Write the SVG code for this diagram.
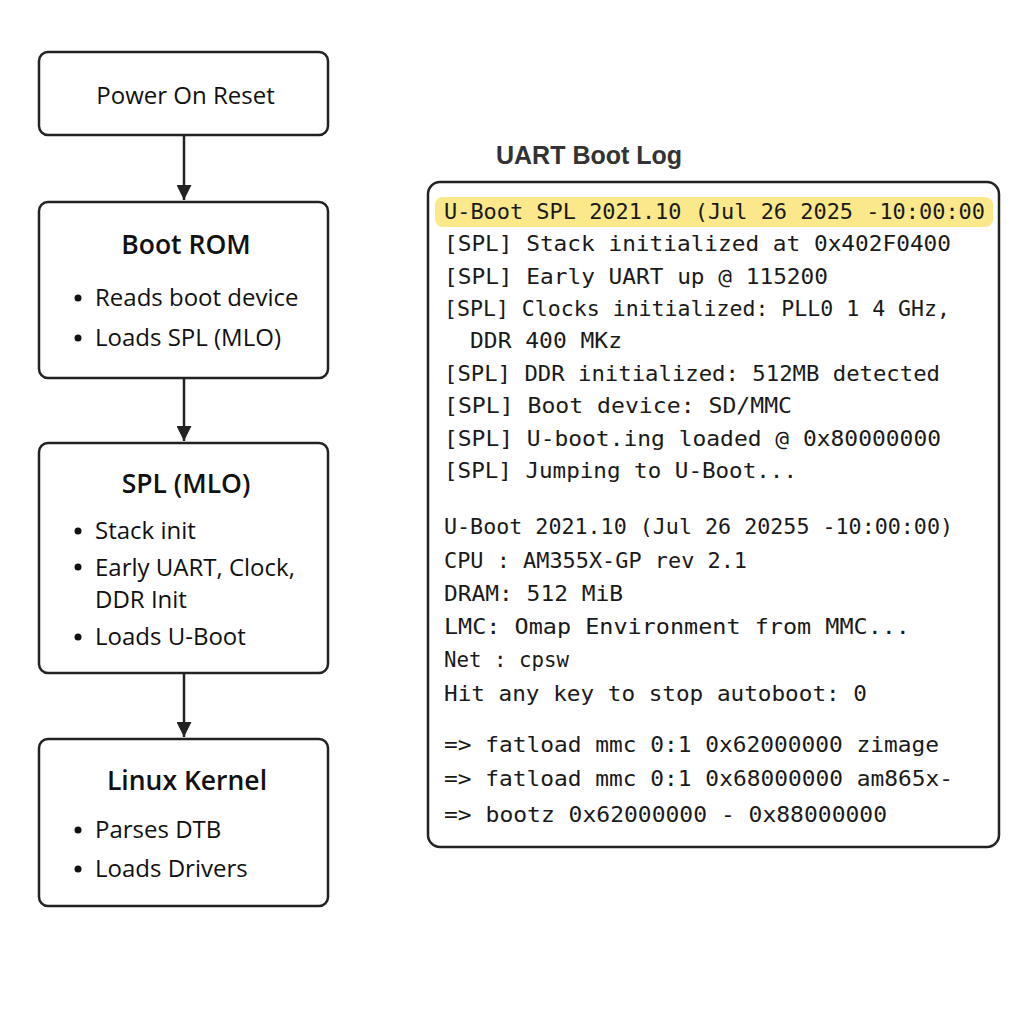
<svg xmlns="http://www.w3.org/2000/svg" width="1024" height="1024" viewBox="0 0 1024 1024">
<defs>
<style>
.box{fill:#fff;stroke:#222;stroke-width:2.5}
.ttl{font-family:"Open Sans","Noto Sans",sans-serif;font-size:26.5px;font-weight:600;fill:#111;text-anchor:middle}
.lbl{font-family:"Open Sans","Noto Sans",sans-serif;font-size:24px;font-weight:500;fill:#111}
.dot{fill:#111}
.log{font-family:"DejaVu Sans Mono","Liberation Mono",monospace;font-size:22px;fill:#1a1a1a}
.edge{stroke:#222;stroke-width:2.5;fill:none}
</style>
<marker id="ah" viewBox="0 0 10 10" refX="10" refY="5" markerWidth="6" markerHeight="6" markerUnits="strokeWidth" orient="auto">
<path d="M0,0 L10,5 L0,10 z" fill="#222"/>
</marker>
</defs>
<rect width="1024" height="1024" fill="#fff"/>

<g id="connectors">
<line class="edge" x1="184" y1="136" x2="184" y2="200" marker-end="url(#ah)"/>
<line class="edge" x1="184" y1="379" x2="184" y2="441" marker-end="url(#ah)"/>
<line class="edge" x1="184" y1="674" x2="184" y2="737" marker-end="url(#ah)"/>
</g>

<g id="power-on-reset">
<rect class="box" x="39" y="52" width="289" height="83" rx="9"/>
<text class="lbl" x="185.5" y="104" text-anchor="middle" font-size="25">Power On Reset</text>
</g>

<g id="boot-rom">
<rect class="box" x="39" y="202" width="289" height="176" rx="9"/>
<text class="ttl" x="186" y="254">Boot ROM</text>
<circle class="dot" cx="78" cy="298" r="3.5"/>
<text class="lbl" x="95" y="306">Reads boot device</text>
<circle class="dot" cx="78" cy="338" r="3.5"/>
<text class="lbl" x="95" y="346">Loads SPL (MLO)</text>
</g>

<g id="spl-mlo">
<rect class="box" x="39" y="443" width="289" height="230" rx="9"/>
<text class="ttl" x="186" y="493">SPL (MLO)</text>
<circle class="dot" cx="78" cy="531" r="3.5"/>
<text class="lbl" x="95" y="539">Stack init</text>
<circle class="dot" cx="78" cy="567" r="3.5"/>
<text class="lbl" x="95" y="576">Early UART, Clock,</text>
<text class="lbl" x="95" y="608">DDR Init</text>
<circle class="dot" cx="78" cy="637" r="3.5"/>
<text class="lbl" x="95" y="645">Loads U-Boot</text>
</g>

<g id="linux-kernel">
<rect class="box" x="39" y="739" width="289" height="167" rx="9"/>
<text class="ttl" x="187" y="790">Linux Kernel</text>
<circle class="dot" cx="78" cy="830" r="3.5"/>
<text class="lbl" x="95" y="838">Parses DTB</text>
<circle class="dot" cx="78" cy="869" r="3.5"/>
<text class="lbl" x="95" y="877">Loads Drivers</text>
</g>

<g id="uart-boot-log">
<text x="496" y="164" font-family="Liberation Sans, Arial, sans-serif" font-size="25" font-weight="bold" fill="#333">UART Boot Log</text>
<rect class="box" x="428" y="182" width="571" height="665" rx="12"/>
<rect x="435" y="197" width="558" height="30" rx="8" fill="#fbe88a"/>
<text class="log" x="444" y="219" textLength="541" lengthAdjust="spacingAndGlyphs">U-Boot SPL 2021.10 (Jul 26 2025 -10:00:00</text>
<text class="log" x="444" y="251" textLength="507" lengthAdjust="spacingAndGlyphs">[SPL] Stack initialized at 0x402F0400</text>
<text class="log" x="444" y="284" textLength="384" lengthAdjust="spacingAndGlyphs">[SPL] Early UART up @ 115200</text>
<text class="log" x="444" y="316" textLength="506" lengthAdjust="spacingAndGlyphs">[SPL] Clocks initialized: PLL0 1 4 GHz,</text>
<text class="log" x="470" y="348" textLength="152" lengthAdjust="spacingAndGlyphs">DDR 400 MKz</text>
<text class="log" x="444" y="381" textLength="496" lengthAdjust="spacingAndGlyphs">[SPL] DDR initialized: 512MB detected</text>
<text class="log" x="444" y="413" textLength="348" lengthAdjust="spacingAndGlyphs">[SPL] Boot device: SD/MMC</text>
<text class="log" x="444" y="446" textLength="497" lengthAdjust="spacingAndGlyphs">[SPL] U-boot.ing loaded @ 0x80000000</text>
<text class="log" x="444" y="478" textLength="353" lengthAdjust="spacingAndGlyphs">[SPL] Jumping to U-Boot...</text>
<text class="log" x="444" y="534" textLength="509" lengthAdjust="spacingAndGlyphs">U-Boot 2021.10 (Jul 26 20255 -10:00:00)</text>
<text class="log" x="444" y="568" textLength="303" lengthAdjust="spacingAndGlyphs">CPU : AM355X-GP rev 2.1</text>
<text class="log" x="444" y="601" textLength="179" lengthAdjust="spacingAndGlyphs">DRAM: 512 MiB</text>
<text class="log" x="444" y="634" textLength="466" lengthAdjust="spacingAndGlyphs">LMC: Omap Environment from MMC...</text>
<text class="log" x="444" y="667" textLength="125" lengthAdjust="spacingAndGlyphs">Net : cpsw</text>
<text class="log" x="444" y="701" textLength="423" lengthAdjust="spacingAndGlyphs">Hit any key to stop autoboot: 0</text>
<text class="log" x="444" y="752" textLength="495" lengthAdjust="spacingAndGlyphs">=&gt; fatload mmc 0:1 0x62000000 zimage</text>
<text class="log" x="444" y="786" textLength="509" lengthAdjust="spacingAndGlyphs">=&gt; fatload mmc 0:1 0x68000000 am865x-</text>
<text class="log" x="444" y="822" textLength="443" lengthAdjust="spacingAndGlyphs">=&gt; bootz 0x62000000 - 0x88000000</text>
</g>
</svg>
